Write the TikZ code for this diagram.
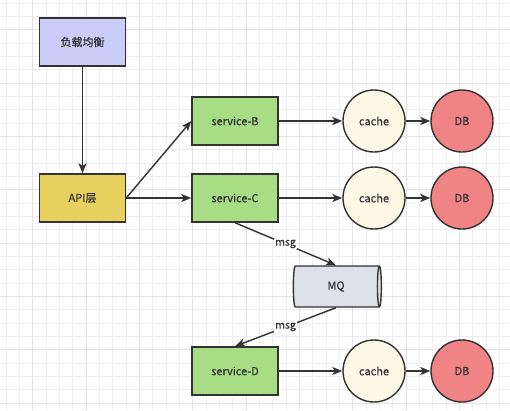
\documentclass[tikz,border=0pt]{standalone}
\usepackage{fontspec}
\setmainfont{Noto Sans CJK SC}
\newfontfamily\labelfont[FakeBold=0.5]{Noto Sans CJK SC}
\usetikzlibrary{shapes.geometric,arrows.meta}
\definecolor{ink}{HTML}{333333}
\definecolor{gridminor}{HTML}{EEEEF1}
\definecolor{gridmajor}{HTML}{E2E2E6}
\definecolor{lbfill}{HTML}{CBCCF8}
\definecolor{apifill}{HTML}{E9D160}
\definecolor{svcfill}{HTML}{A6DD85}
\definecolor{cachefill}{HTML}{FBF8E6}
\definecolor{dbfill}{HTML}{F08385}
\definecolor{mqfill}{HTML}{DEE1E7}
\tikzset{
  box/.style={draw=ink, line width=1.4pt, minimum width=86pt, minimum height=48pt, inner sep=0pt},
  lbbox/.style={box, fill=lbfill},
  apibox/.style={box, fill=apifill},
  svcbox/.style={box, fill=svcfill},
  cachenode/.style={circle, draw=ink, line width=1.4pt, minimum size=62pt, inner sep=0pt, fill=cachefill},
  dbnode/.style={circle, draw=ink, line width=1.4pt, minimum size=62pt, inner sep=0pt, fill=dbfill},
  mqnode/.style={cylinder, draw=ink, line width=1.4pt, minimum width=41pt, minimum height=88pt, shape aspect=0.38, inner sep=0pt, fill=mqfill, shape border rotate=0},
  conn/.style={draw=ink, line width=1.4pt, -{Stealth[length=10pt,width=8pt,inset=2.5pt]}},
  lbl/.style={fill=white, inner sep=1pt, text=ink, font=\labelfont\fontsize{10.5}{12}\selectfont},
  every node/.append style={text=ink, font=\labelfont\fontsize{11}{13}\selectfont}
}
\begin{document}
\begin{tikzpicture}[x=1pt,y=-1pt]
\useasboundingbox (0,0) rectangle (510,410);
\fill[white] (0,0) rectangle (510,410);
% grid
\foreach \i in {0,...,38} {
  \draw[gridminor, line width=0.6pt] ({6+13.333*\i},0) -- ({6+13.333*\i},410);
}
\foreach \i in {0,...,31} {
  \draw[gridminor, line width=0.6pt] (0,{3+13.333*\i}) -- (510,{3+13.333*\i});
}
\foreach \i in {0,...,9} {
  \draw[gridmajor, line width=0.8pt] ({32.67+53.333*\i},0) -- ({32.67+53.333*\i},410);
}
\foreach \i in {0,...,7} {
  \draw[gridmajor, line width=0.8pt] (0,{29.67+53.333*\i}) -- (510,{29.67+53.333*\i});
}
% nodes
\node[lbbox] (lb) at (82.5,42) {负载均衡};
\node[apibox] (api) at (82.5,198) {API层};
\node[svcbox] (svcB) at (235,121) {service-B};
\node[svcbox] (svcC) at (235,198) {service-C};
\node[svcbox] (svcD) at (235,371) {service-D};
\node[cachenode] (cacheB) at (374,121) {cache};
\node[cachenode] (cacheC) at (374,198) {cache};
\node[cachenode] (cacheD) at (374,371) {cache};
\node[dbnode] (dbB) at (462,121) {DB};
\node[dbnode] (dbC) at (462,198) {DB};
\node[dbnode] (dbD) at (462,371) {DB};
\node[mqnode] (mq) at (336,286.5) {MQ};
% connectors
\draw[conn] (lb) -- (api);
\draw[conn] (api.east) -- (svcB.west);
\draw[conn] (api.east) -- (svcC.west);
\draw[conn] (svcB) -- (cacheB);
\draw[conn] (cacheB) -- (dbB);
\draw[conn] (svcC) -- (cacheC);
\draw[conn] (cacheC) -- (dbC);
\draw[conn] (svcD) -- (cacheD);
\draw[conn] (cacheD) -- (dbD);
\draw[conn] (svcC.south) -- node[lbl] (m1) {msg} (mq.north);
\draw[conn] (mq.south) -- node[lbl] (m2) {msg} (svcD.north);
\end{tikzpicture}
\end{document}
